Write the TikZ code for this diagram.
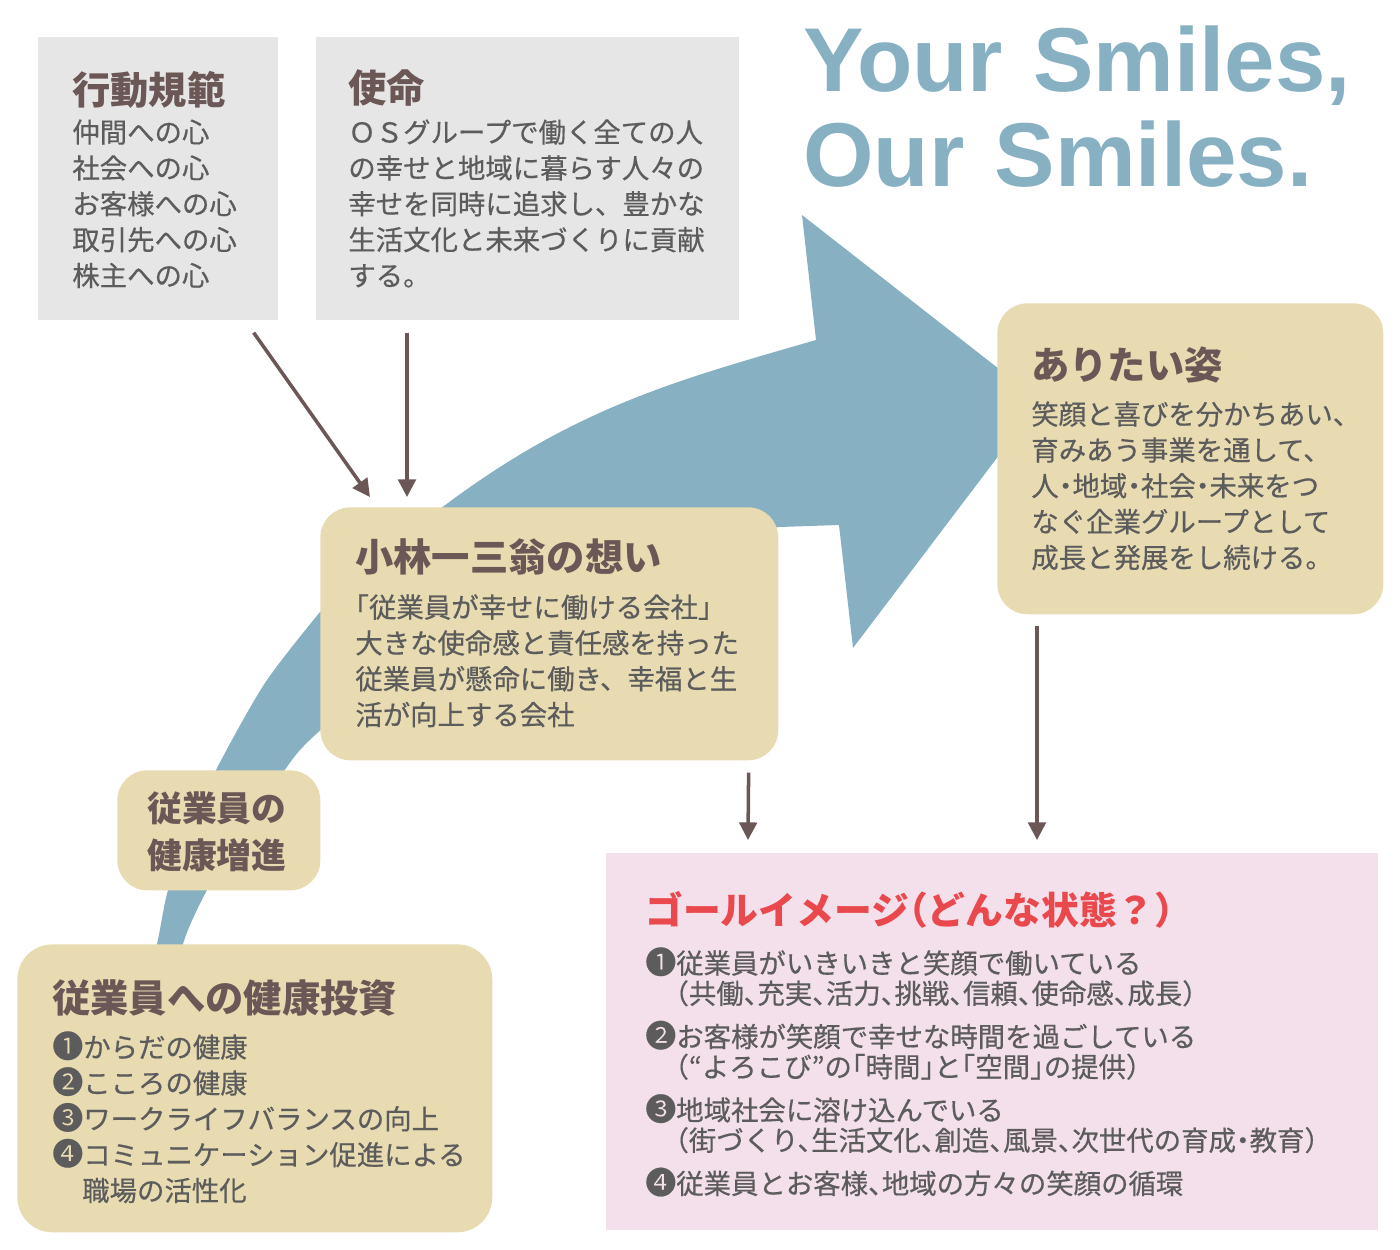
\documentclass[tikz,border=0pt]{standalone}
\usepackage{fontspec}
\setmainfont{Noto Sans CJK JP}
\newfontfamily\jp{Noto Sans CJK JP}
\newfontfamily\jpbody{Noto Sans CJK JP}[FakeBold=0.5]
\newfontfamily\jphalt{Noto Sans CJK JP}[RawFeature=+halt, FakeBold=0.5]
\newfontfamily\jphalthead{Noto Sans CJK JP}[RawFeature=+halt]
\newfontfamily\titlefont{Liberation Sans}
\usepackage{tikz}
\usetikzlibrary{arrows.meta,positioning,calc}

\definecolor{bandblue}{HTML}{87B1C3}
\definecolor{cardbeige}{HTML}{E8DBB2}
\definecolor{panelgray}{HTML}{E6E6E6}
\definecolor{goalpink}{HTML}{F3E0EB}
\definecolor{headbrown}{HTML}{6B5756}
\definecolor{bodygray}{HTML}{5C5C5C}
\definecolor{goalred}{HTML}{E9484D}
\definecolor{arrowbrown}{HTML}{6B5755}

% bigger circled numbers for the lists
\newcommand{\marknum}[1]{{\fontsize{17.6pt}{17.6pt}\selectfont #1}}

\begin{document}
\begin{tikzpicture}[
    x=0.02cm, y=-0.02cm,
    >={Triangle[length=10pt,width=10pt]},
    panel/.style={
        rectangle,
        fill=#1,
        inner sep=0pt,
        anchor=north west
    },
    card/.style={
        panel=cardbeige,
        rounded corners=0.6cm
    },
    head/.style={
        anchor=base west,
        inner sep=0pt,
        text=headbrown,
        font=\jp\bfseries\fontsize{21.8pt}{26pt}\selectfont
    },
    body/.style={
        anchor=base west,
        inner sep=0pt,
        text=bodygray,
        align=left,
        text width=14cm,
        font=\jpbody\fontsize{15.6pt}{20.4pt}\selectfont
    },
    flow/.style={
        ->,
        line width=2pt,
        draw=arrowbrown
    }
]
\useasboundingbox (0,0) rectangle (1400,1250);

% Big sweeping arrow behind everything
\fill[bandblue] plot[smooth] coordinates {(140,1010) (157,944) (168,890) (190,828) (216,770) (265,683) (320,612)}
    .. controls (520,422) and (636,392) .. (816,340)
    -- (802,215) -- (1040,401) -- (853,648) -- (839,525)
    -- plot[smooth] coordinates {(780,527) (650,545) (520,590) (420,650) (350,705) (300,750) (265,800) (233,850) (207,890) (183,944) (172,1010)}
    -- cycle;

% Slogan
\node[anchor=base west, inner sep=0pt, text=bandblue, align=left, text width=12cm,
      font=\titlefont\bfseries\fontsize{51.6pt}{53.9pt}\selectfont] (slogan) at (803,92)
    {Your Smiles,\\Our Smiles.};

% Top gray panels
\node[panel=panelgray, minimum width=4.8cm, minimum height=5.66cm] (kodo) at (38,37) {};
\node[head] (kodo-head) at (72,104.6) {行動規範};
\node[body] (kodo-body) at (72,142.5) {仲間への心\\社会への心\\お客様への心\\取引先への心\\株主への心};

\node[panel=panelgray, minimum width=8.46cm, minimum height=5.66cm] (shimei) at (316,37) {};
\node[head] (shimei-head) at (348,102.6) {使命};
\node[body] (shimei-body) at (348,142.5) {ＯＳグループで働く全ての人\\の幸せと地域に暮らす人々の\\幸せを同時に追求し、豊かな\\生活文化と未来づくりに貢献\\する。};

% Beige cards
\node[card, minimum width=7.72cm, minimum height=6.22cm] (arita) at (997,303) {};
\node[head] (arita-head) at (1031,379.6) {ありたい姿};
\node[body] (arita-body) at (1031,424.5) {笑顔と喜びを分かちあい、\\育みあう事業を通して、\\{\jphalt 人・地域・社会・未来をつ}\\なぐ企業グループとして\\成長と発展をし続ける。};

\node[card, minimum width=9.16cm, minimum height=5.06cm] (kobayashi) at (320,507) {};
\node[head] (kobayashi-head) at (355,571.6) {小林一三翁の想い};
\node[body] (kobayashi-body) at (355,617.5) {{\jphalt「従業員が幸せに働ける会社」}\\大きな使命感と責任感を持った\\従業員が懸命に働き、幸福と生\\活が向上する会社};

\node[card, minimum width=4.06cm, minimum height=2.4cm] (zoshin) at (117,770) {};
\node[head, align=left, text width=4cm, font=\jp\bfseries\fontsize{19.8pt}{26.6pt}\selectfont] (zoshin-head) at (147,821.3) {従業員の\\健康増進};

\node[card, minimum width=9.5cm, minimum height=5.76cm, rounded corners=0.7cm] (toshi) at (17,944) {};
\node[head] (toshi-head) at (52,1012.7) {従業員への健康投資};
\node[body] (toshi-body) at (52,1057.5) {\marknum{❶}からだの健康\\\marknum{❷}こころの健康\\\marknum{❸}ワークライフバランスの向上\\\marknum{❹}コミュニケーション促進による\\\hspace*{17pt}職場の活性化};

% Goal panel
\node[panel=goalpink, minimum width=15.44cm, minimum height=7.54cm] (goal) at (606,853) {};
\node[head, text=goalred, font=\jphalthead\bfseries\fontsize{21.5pt}{26pt}\selectfont] (goal-head) at (645,924.4) {ゴールイメージ（どんな状態？）};
\node[body, font=\jphalt\fontsize{15.6pt}{17.2pt}\selectfont] (goal-body) at (645,973.5)
    {\marknum{❶}従業員がいきいきと笑顔で働いている\\\hspace*{17pt}（共働、充実、活力、挑戦、信頼、使命感、成長）\\[7.4pt]
     \marknum{❷}お客様が笑顔で幸せな時間を過ごしている\\\hspace*{17pt}（“よろこび”の「時間」と「空間」の提供）\\[7.4pt]
     \marknum{❸}地域社会に溶け込んでいる\\\hspace*{17pt}（街づくり、生活文化、創造、風景、次世代の育成・教育）\\[7.4pt]
     \marknum{❹}従業員とお客様、地域の方々の笑顔の循環};

% Flow arrows
\draw[flow] ([shift={(-25,12)}]kodo.south east) -- ([shift={(50,-10)}]kobayashi.north west);
\draw[flow] ([shift={(91,12)}]shimei.south west) -- ([shift={(87,-10)}]kobayashi.north west);
\draw[flow] ([shift={(-30,12)}]kobayashi.south east) -- ([shift={(142,-13)}]goal.north west);
\draw[flow] ([shift={(40,11)}]arita.south west) -- ([shift={(431,-13)}]goal.north west);

\end{tikzpicture}
\end{document}
